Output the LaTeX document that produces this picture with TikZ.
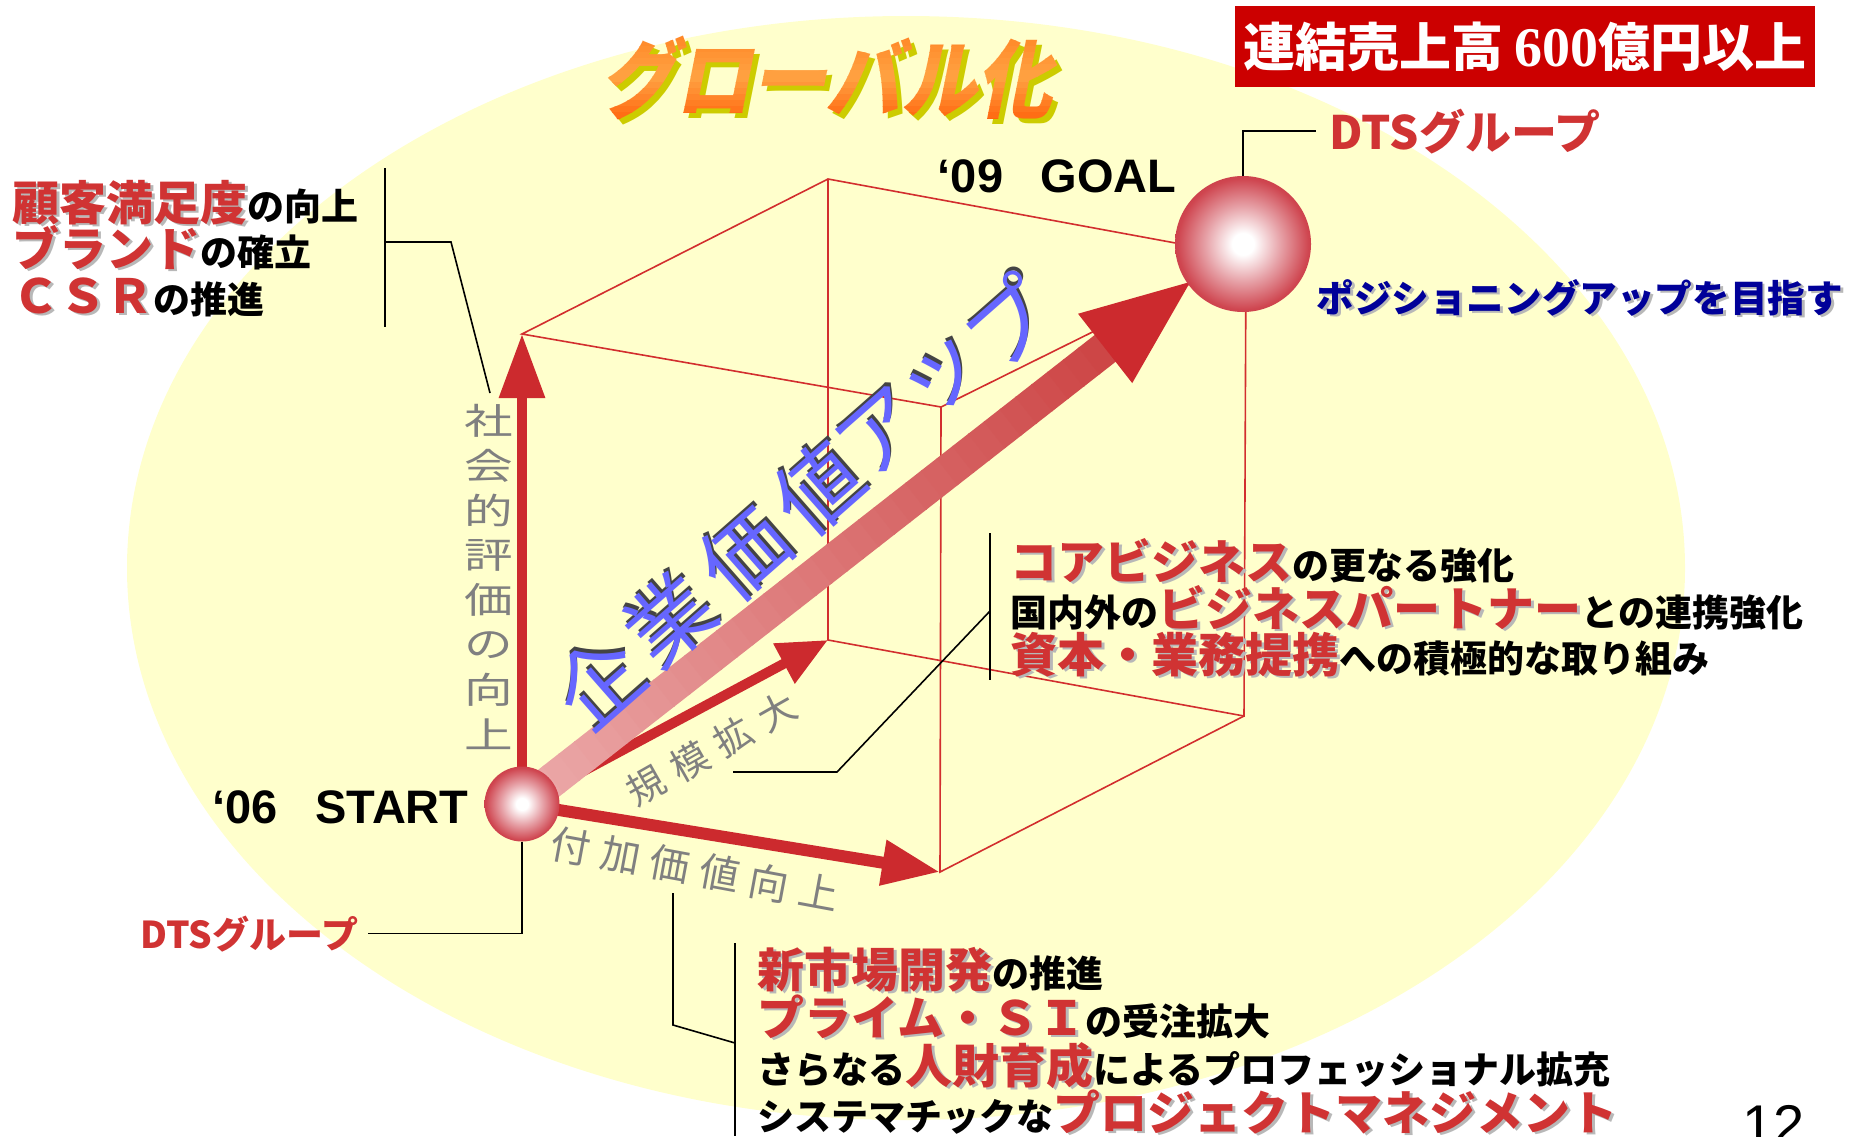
\documentclass[tikz,border=0pt]{standalone}
\usepackage{fontspec}
\usepackage{graphicx}
\usetikzlibrary{arrows.meta,calc}

\newfontfamily\jp{Noto Sans CJK JP}
\newfontfamily\jptitle{Noto Sans CJK JP}[FakeSlant=0.2,FakeStretch=0.88]
\newfontfamily\lat{Liberation Sans}
\newfontfamily\latserif{Liberation Serif}

\definecolor{bgyellow}{HTML}{FFFFCC}
\definecolor{cubered}{HTML}{D22E2E}
\definecolor{arrred}{HTML}{CC2A2E}
\definecolor{arrbody}{HTML}{CD4646}
\definecolor{arrpink}{HTML}{ECAAAA}
\definecolor{txtred}{HTML}{D03333}
\definecolor{txtgrey}{HTML}{808080}
\definecolor{bigblue}{HTML}{6666FF}
\definecolor{bigshadow}{HTML}{444444}
\definecolor{navyblue}{HTML}{000099}
\definecolor{boxred}{HTML}{CC0000}
\definecolor{ballred}{HTML}{C02232}
\definecolor{balldeep}{HTML}{CF4650}
\definecolor{ballmid}{HTML}{E6A0A6}
\definecolor{shadegrey}{HTML}{B8B8B8}
\definecolor{ttltop}{HTML}{FF8424}
\definecolor{ttlmid}{HTML}{FFA040}
\definecolor{ttlbot}{HTML}{FF640E}
\definecolor{ttlshadow}{HTML}{CCCC00}

\pgfdeclareradialshading{ballshade}{\pgfpoint{0bp}{0bp}}{color(0bp)=(white); color(4bp)=(white); color(14bp)=(ballmid); color(24bp)=(balldeep); color(34bp)=(ballred); color(50bp)=(ballred)}

% text with a light shadow
\newcommand\shtext[2]{\makebox[0pt][l]{\kern1.4pt\raisebox{-1.4pt}{\textcolor{shadegrey}{#2}}}\textcolor{#1}{#2}}
\newcommand\redtxt[1]{{\fontsize{23.5pt}{24pt}\selectfont\shtext{txtred}{#1}}}
\newcommand\blktxt[1]{{\fontsize{18.5pt}{19pt}\selectfont #1}}
\newcommand\titlefont{\jptitle\bfseries\fontsize{43pt}{43pt}\selectfont}

\begin{document}
\begin{tikzpicture}[x=0.5pt, y=-0.5pt,
  edge/.style={draw=cubered, line width=0.8pt},
  leader/.style={draw=black, line width=0.8pt},
  axisarrow/.style={draw=arrred, line cap=butt},
  ball/.style={circle, inner sep=0pt, shading=ballshade},
  note/.style={anchor=base west, inner sep=0pt, font=\jp\bfseries},
  greytxt/.style={inner sep=0pt, text=txtgrey, font=\jp\fontsize{20pt}{20pt}\selectfont},
  bigtxt/.style={inner sep=0pt, font=\jp\fontsize{43pt}{43pt}\selectfont, rotate=41.3}]
\useasboundingbox (0,0) rectangle (1862,1136);

% Hintergrund
\fill[bgyellow] (906,568) ellipse [x radius=389.5pt, y radius=276pt];

% Wuerfel
\coordinate (startpt) at (522,804);
\coordinate (goalpt) at (1243,244);
\coordinate (ftl) at (522,334);
\coordinate (btl) at (828,179);
\coordinate (ftr) at (941,407);
\coordinate (btr) at (1246,256);
\coordinate (bbl) at (828,640);
\coordinate (bbr) at (1244,716);
\coordinate (fbr) at (940,872);
\draw[edge] (ftl) -- (btl) -- (btr) -- (ftr) -- cycle;
\draw[edge] (btl) -- (bbl) -- (bbr) -- (btr);
\draw[edge] (ftr) -- (fbr) -- (bbr);

% Achsen
\draw[axisarrow, line width=4.7pt, -{Triangle[length=32pt,width=22pt]}] (startpt) -- (ftl);
\draw[axisarrow, line width=6pt, -{Triangle[length=29pt,width=21.5pt]}] (startpt) -- (fbr);
\draw[axisarrow, line width=5pt, -{Triangle[length=25pt,width=21.5pt]}] (startpt) -- (bbl);

% grosser Pfeil
\begin{scope}[shift={(startpt)}, rotate=38]
  \foreach \i in {0,...,36}{
    \pgfmathsetmacro\mix{100*\i/36}
    \fill[arrbody!\mix!arrpink] (\i*20-0.6,-17) rectangle (\i*20+20.6,17);
  }
  \fill[arrred] (740,-44) -- (848,0) -- (740,44) -- cycle;
\end{scope}

\foreach \ch/\t in {企/0,業/95,価/195,値/293,ア/377,ッ/462,プ/545}{
  \node[bigtxt, text=bigshadow, xshift=1.6pt, yshift=1.3pt] at ($(598,682)+(\t*0.751,-\t*0.660)$) {\ch};
  \node[bigtxt, text=bigblue] (kv\t) at ($(598,682)+(\t*0.751,-\t*0.660)$) {\ch};
}

% Achsenbeschriftung
\foreach \ch [count=\i] in {社,会,的,評,価,の,向,上}
  \node[greytxt, font=\jp\fontsize{18pt}{18pt}\selectfont] (soc\i) at (489,{421+(\i-1)*44.8}) {\scalebox{1.35}[1]{\ch}};
\foreach \ch [count=\i] in {規,模,拡,大}
  \node[greytxt, rotate=29.5, font=\jp\fontsize{19pt}{19pt}\selectfont] (size\i) at ({646+(\i-1)*43.6},{786-(\i-1)*24.7}) {\ch};
\foreach \ch [count=\i] in {付,加,価,値,向,上}
  \node[greytxt, rotate=-10.5] (add\i) at ({571+(\i-1)*49.6},{846+(\i-1)*9.2}) {\ch};

% Kugeln
\node[ball, minimum size=37.5pt] (start) at (startpt) {};
\node[ball, minimum size=68pt] (goal) at (goalpt) {};

% Titel
\node[inner sep=0pt, text=ttlshadow, font=\titlefont] (globalshadow) at (831,83) {グローバル化};
\foreach \i in {0,...,7}{
  \pgfmathsetmacro\mix{100*\i/7}
  \begin{scope}
    \clip (570,{28+\i*6}) rectangle (1080,{34.6+\i*6});
    \node[inner sep=0pt, text=ttlmid!\mix!ttltop, font=\titlefont] at (826,78) {グローバル化};
  \end{scope}
}
\foreach \i in {0,...,7}{
  \pgfmathsetmacro\mix{100*\i/7}
  \begin{scope}
    \clip (570,{76+\i*6}) rectangle (1080,{82.6+\i*6});
    \node[inner sep=0pt, text=ttlbot!\mix!ttlmid, font=\titlefont] at (826,78) {グローバル化};
  \end{scope}
}
\begin{scope}
  \clip (570,124) rectangle (1080,140);
  \node[inner sep=0pt, text=ttlbot, font=\titlefont] (global) at (826,78) {グローバル化};
\end{scope}

\node[fill=boxred, text=white, minimum width=290pt, minimum height=40.5pt, inner sep=0pt,
  font=\jp\bfseries\fontsize{26pt}{26pt}\selectfont] (sales) at (1525,46.5)
  {連結売上高 {\latserif\bfseries\fontsize{28pt}{28pt}\selectfont 600}億円以上};

% Start / Ziel
\node[anchor=base east, inner sep=0pt, font=\lat\bfseries\fontsize{23.5pt}{24pt}\selectfont] (goallbl) at (1177,192) {‘09\hspace{0.8em}GOAL};
\node[anchor=base east, inner sep=0pt, font=\lat\bfseries\fontsize{23.5pt}{24pt}\selectfont] (startlbl) at (469,823) {‘06\hspace{0.8em}START};
\node[anchor=base west, inner sep=0pt, text=txtred, font=\jp\bfseries\fontsize{23pt}{23pt}\selectfont] (dtsgoal) at (1329,149) {DTSグループ};
\node[anchor=base west, inner sep=0pt, text=txtred, font=\jp\bfseries\fontsize{18.5pt}{18.5pt}\selectfont] (dtsstart) at (140,948) {DTSグループ};
\node[note, font=\jp\bfseries\fontsize{18.8pt}{19pt}\selectfont] (position) at (1316,312) {\shtext{navyblue}{ポジショニングアップを目指す}};
\draw[leader] (goal.north) |- ($(dtsgoal.west)+(-13,0)$);
\draw[leader] (start.south) |- ($(dtsstart.east)+(9,0)$);

% links
\node[note] (cs) at (12,220) {\redtxt{顧客満足度}\blktxt{の向上}};
\node[note] (brand) at (12,266) {\redtxt{ブランド}\blktxt{の確立}};
\node[note] (csr) at (12,313) {\redtxt{ＣＳＲ}\blktxt{の推進}};
\coordinate (lbartop) at (385,168);
\coordinate (lbarbot) at (385,327);
\coordinate (lbarmid) at (385,242);
\coordinate (lknee) at (451,242);
\coordinate (lend) at (490,393);
\draw[leader] (lbartop) -- (lbarbot);
\draw[leader] (lbarmid) -- (lknee) -- (lend);

% mitte
\node[note] (core) at (1010,579) {\redtxt{コアビジネス}\blktxt{の更なる強化}};
\node[note] (partner) at (1010,626) {\blktxt{国内外の}\redtxt{ビジネスパートナー}\blktxt{との連携強化}};
\node[note] (alliance) at (1010,672) {\redtxt{資本・業務提携}\blktxt{への積極的な取り組み}};
\coordinate (mbartop) at (990,533);
\coordinate (mbarbot) at (990,680);
\coordinate (mbarmid) at (990,611);
\coordinate (mknee) at (837,772);
\coordinate (mend) at (733,772);
\draw[leader] (mbartop) -- (mbarbot);
\draw[leader] (mbarmid) -- (mknee) -- (mend);

% unten
\node[note] (market) at (757,987) {\redtxt{新市場開発}\blktxt{の推進}};
\node[note] (prime) at (757,1035) {\redtxt{プライム・ＳＩ}\blktxt{の受注拡大}};
\node[note] (people) at (757,1083) {\blktxt{さらなる}\redtxt{人財育成}\blktxt{によるプロフェッショナル拡充}};
\node[note] (project) at (757,1130) {\blktxt{システマチックな}\redtxt{プロジェクトマネジメント}};
\coordinate (bbartop) at (735,943);
\coordinate (bbarbot) at (735,1136);
\coordinate (bstart) at (673,893);
\coordinate (bknee) at (673,1025);
\coordinate (bend) at (735,1043);
\draw[leader] (bbartop) -- (bbarbot);
\draw[leader] (bstart) -- (bknee) -- (bend);

\node[anchor=base west, inner sep=0pt, font=\lat\fontsize{28pt}{28pt}\selectfont] (page) at (1742,1144) {12};
\end{tikzpicture}
\end{document}
